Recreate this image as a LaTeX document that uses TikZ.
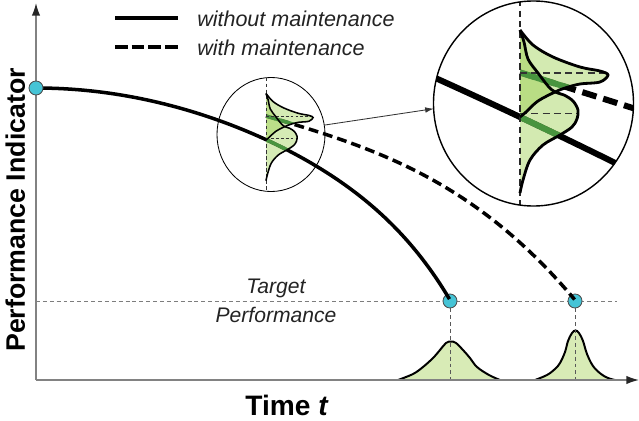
\documentclass[tikz,border=0pt]{standalone}
\usepackage{fontspec}
\setmainfont{Liberation Sans}
\usetikzlibrary{arrows.meta,shapes.geometric}
\definecolor{dotcyan}{RGB}{70,196,214}
\definecolor{fillgreen}{RGB}{150,204,70}
\definecolor{linegreen}{RGB}{72,148,62}
\definecolor{axisgray}{RGB}{130,130,130}
\definecolor{txtdark}{RGB}{35,35,35}
\definecolor{bellfill}{RGB}{216,235,182}
\definecolor{dashgray}{RGB}{125,125,125}

\newcommand{\distP}[2]{\path[#1] plot[smooth,tension=0.55] coordinates {(0,-87) (13,-72) (33,-60) (60,-50) (80,-46) (88,-42) (80,-35) (60,-33) (45,-29) (35,-25) (18,-16) (6,-5) (0,0)} #2;}
\newcommand{\distQ}[2]{\path[#1] plot[smooth,tension=0.55] coordinates {(0,-87) (4,-75) (8,-58) (18,-44) (28,-31) (35,-25) (44,-22) (53,-16) (58,-7) (57,2) (52,10) (40,18) (23,28) (10,43) (3,63) (0,76)} #2;}
\newcommand{\clipPQ}[1]{\clip[#1] plot[smooth,tension=0.55] coordinates {(0,-87) (13,-72) (33,-60) (60,-50) (80,-46) (88,-42) (80,-35) (60,-33) (45,-29) (35,-25) (18,-16) (6,-5) (0,0)} -- cycle plot[smooth,tension=0.55] coordinates {(0,-87) (4,-75) (8,-58) (18,-44) (28,-31) (35,-25) (44,-22) (53,-16) (58,-7) (57,2) (52,10) (40,18) (23,28) (10,43) (3,63) (0,76)} -- cycle;}
\newcommand{\bellA}[2]{\path[#1] plot[smooth,tension=0.6] coordinates {(398,380) (413,374) (423,367) (433,358) (440,350) (446,343) (451,341.5) (456,343) (463,350) (470,358) (477,367) (489,375) (500,380)} #2;}
\newcommand{\bellB}[2]{\path[#1] plot[smooth,tension=0.6] coordinates {(535,380) (547,375) (555,369) (560,363) (565,352) (568,341) (572,333) (575.5,330.5) (579,333) (583,341) (587,354) (593,366) (601,374) (608,378) (615,380)} #2;}

\begin{document}
\begin{tikzpicture}[x=0.025cm,y=-0.025cm,
  dotstyle/.style={circle,draw=black!70,line width=0.6pt,fill=dotcyan,minimum size=0.35cm,inner sep=0pt},
  axisline/.style={draw=axisgray,line width=1pt},
  tline/.style={draw=dashgray,line width=0.7pt,dash pattern=on 2.8pt off 2.1pt},
  vdline/.style={draw=black!65,line width=0.7pt,dash pattern=on 2.8pt off 2.1pt},
  bellline/.style={draw=black,line width=1.4pt},
  legtext/.style={font=\fontsize{15.3}{18}\selectfont\itshape,text=txtdark,inner sep=0pt},
  ttext/.style={font=\fontsize{15}{18}\selectfont\itshape,text=txtdark,inner sep=0pt},
  solidmain/.style={line width=2.5pt},
  dashmain/.style={line width=2.5pt,dash pattern=on 7pt off 3.6pt},
  zoomring/.style={draw=black,ellipse,inner sep=0pt,outer sep=0pt}
]
\useasboundingbox (0,0) rectangle (639,421);

% bells
\bellA{fill=bellfill}{-- cycle}
\bellB{fill=bellfill}{-- cycle}
\bellA{bellline}{}
\bellB{bellline}{}

% coordinates
\coordinate (O) at (36,380);
\coordinate (ytop) at (36,3);
\coordinate (xend) at (639,380);
\coordinate (tl0) at (36,301);
\coordinate (tl1) at (617,301);
\coordinate (b1) at (450,380);
\coordinate (b2) at (575,380);

% target line and vertical guides
\draw[tline] (tl0) -- (tl1);
\node[dotstyle] (p1) at (450,301) {};
\node[dotstyle] (p2) at (575,301) {};
\draw[vdline] (p1) -- (b1);
\draw[vdline] (p2) -- (b2);

% axes
\draw[axisline,-{Latex[length=9pt,width=6pt,color=black!85]}] (O) -- (ytop);
\draw[axisline,-{Latex[length=9pt,width=6pt,color=black!85]}] (O) -- (xend);

% main curves
\draw[solidmain] plot[domain=0:1,samples=120,variable=\t] ({36+414*\t},{88+166*\t*\t+46*(\t)^8});
\draw[dashmain] plot[domain=0:1,samples=120,variable=\t] ({266+309*\t},{116+91.6*\t+92.4*(\t)^3});

% small zoom inset
\distP{fill=fillgreen,fill opacity=0.4,shift={(266,140)},scale=0.535}{-- cycle}
\distQ{fill=fillgreen,fill opacity=0.4,shift={(266,140)},scale=0.535}{-- cycle}
\begin{scope}
  \clipPQ{shift={(266,140)},scale=0.535}
  \draw[linegreen,line width=2.5pt] plot[domain=0.5:0.62,samples=30,variable=\t] ({36+414*\t},{88+166*\t*\t+46*(\t)^8});
  \draw[linegreen,line width=2.5pt] plot[domain=0:0.15,samples=20,variable=\t] ({266+309*\t},{116+91.6*\t+92.4*(\t)^3});
\end{scope}
\coordinate (sv0) at (266,77.5);
\coordinate (sv1) at (266,191.5);
\draw[black!80,line width=0.6pt,dash pattern=on 2.5pt off 1.8pt] (sv0) -- (sv1);
\begin{scope}[shift={(266,140)},scale=0.535]
  \coordinate (sm1) at (0,-44); \coordinate (sm2) at (86,-44);
  \coordinate (sm3) at (0,-3.5); \coordinate (sm4) at (57.5,-3.5);
  \draw[black!80,line width=0.6pt,dash pattern=on 2pt off 1.5pt] (sm1) -- (sm2) (sm3) -- (sm4);
\end{scope}
\distP{draw=black,line width=1.1pt,shift={(266,140)},scale=0.535}{}
\distQ{draw=black,line width=1.1pt,shift={(266,140)},scale=0.535}{}
\node[zoomring,line width=0.6pt,minimum width=2.7cm,minimum height=2.85cm] (small) at (271,134.5) {};

% big zoom inset
\begin{scope}
  \clip (533.5,103.5) ellipse [x radius=2.5cm, y radius=2.5625cm];
  \draw[line width=4.3pt] plot[domain=410:660,samples=60,variable=\t] ({\t},{117+0.4715*(\t-520)+0.000125*(\t-520)*(\t-520)});
  \draw[line width=4.3pt,dash pattern=on 10.5pt off 5pt] (520,72.5) -- (660,116.6);
  \distP{fill=fillgreen,fill opacity=0.42,shift={(520,117)}}{-- cycle}
  \distQ{fill=fillgreen,fill opacity=0.42,shift={(520,117)}}{-- cycle}
  \begin{scope}
    \clipPQ{shift={(520,117)}}
    \draw[linegreen,line width=4.3pt] plot[domain=515:600,samples=30,variable=\t] ({\t},{117+0.4715*(\t-520)+0.000125*(\t-520)*(\t-520)});
    \draw[linegreen,line width=4.3pt] (520,72.5) -- (600,97.7);
  \end{scope}
  \coordinate (bv0) at (520,0);
  \coordinate (bv1) at (520,210);
  \draw[black!85,line width=1pt,dash pattern=on 4.5pt off 3pt] (bv0) -- (bv1);
  \coordinate (bm1) at (520,73); \coordinate (bm2) at (606,73);
  \coordinate (bm3) at (520,113.5); \coordinate (bm4) at (577.5,113.5);
  \draw[black!80,line width=1pt,dash pattern=on 5pt off 3pt] (bm1) -- (bm2) (bm3) -- (bm4);
  \distP{draw=black,line width=2pt,shift={(520,117)}}{}
  \distQ{draw=black,line width=2pt,shift={(520,117)}}{}
\end{scope}
\node[zoomring,line width=1pt,minimum width=5cm,minimum height=5.125cm] (big) at (533.5,103.5) {};

\draw[black!80,line width=0.6pt,-{Latex[length=6pt,width=4pt]}] (small.10) -- (big.183);

% start dot
\node[dotstyle] (p0) at (36,88) {};

% legend
\coordinate (la) at (115,18); \coordinate (lb) at (178,18);
\coordinate (lc) at (115,47); \coordinate (ld) at (178,47);
\draw[line width=3.5pt] (la) -- (lb);
\draw[line width=3.5pt,dash pattern=on 9pt off 2.9pt] (lc) -- (ld);
\node[legtext,anchor=base west] (leg1) at (197,26) {without maintenance};
\node[legtext,anchor=base west] (leg2) at (197,55) {with maintenance};

% labels
\node[ttext,anchor=base] (tg1) at (276,293) {Target};
\node[ttext,anchor=base] (tg2) at (276,322) {Performance};
\node[anchor=base,inner sep=0pt,font=\fontsize{20}{24}\selectfont\bfseries] (xlab) at (287,415) {Time \textit{t}};
\node[rotate=90,anchor=base,inner sep=0pt,font=\fontsize{19}{23}\selectfont\bfseries] (ylab) at (25,210) {Performance Indicator};
\end{tikzpicture}
\end{document}
